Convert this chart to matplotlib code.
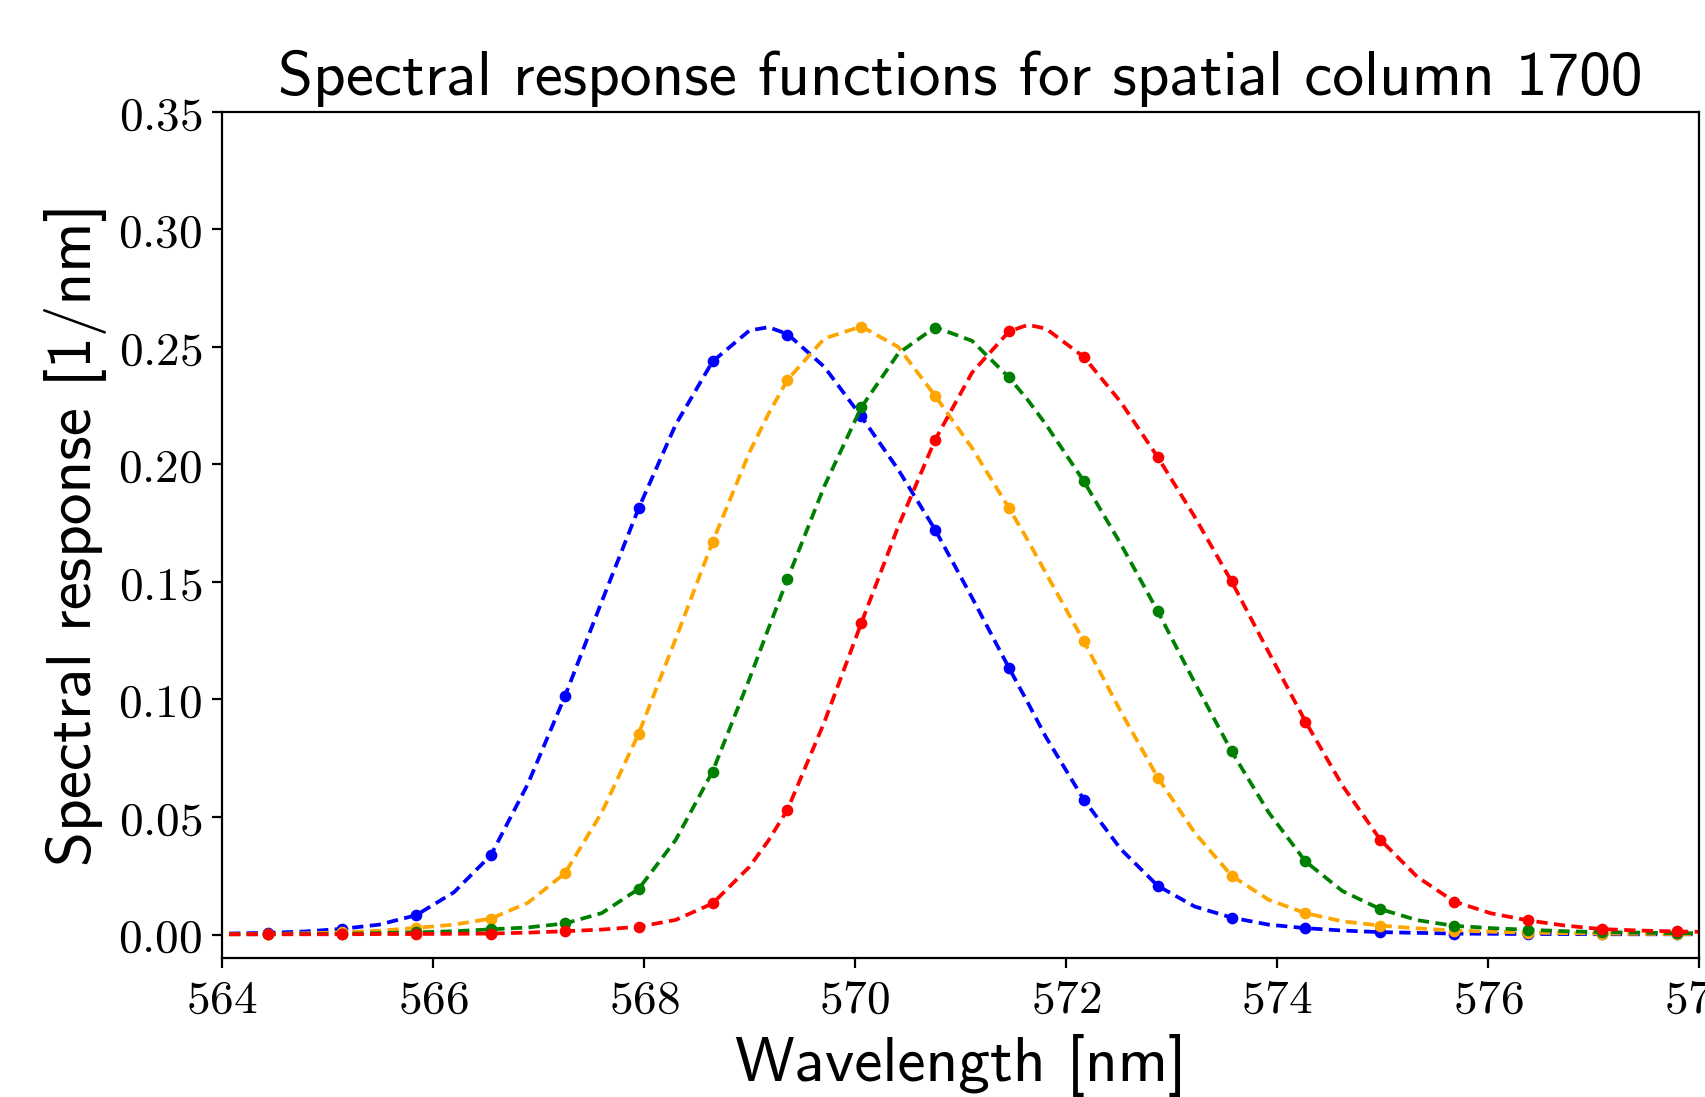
import matplotlib
matplotlib.use("Agg")
import matplotlib.pyplot as plt
from matplotlib.ticker import MultipleLocator, FormatStrFormatter

# sampled wavelengths (dots) shared by all four response functions
wl_samples = [564.44, 565.14, 565.84, 566.55, 567.25, 567.95, 568.65, 569.36, 570.06, 570.76,
              571.46, 572.17, 572.87, 573.57, 574.27, 574.98, 575.68, 576.38, 577.08, 577.79]

blue_pts = [0.0007, 0.0024, 0.0082, 0.0338, 0.1013, 0.1814, 0.2438, 0.2552, 0.2204, 0.1722,
            0.1134, 0.0573, 0.0207, 0.0072, 0.0027, 0.0010, 0.0004, 0.0002, 0.0001, 0.0001]
orange_pts = [0.0002, 0.0009, 0.0028, 0.0068, 0.0260, 0.0855, 0.1670, 0.2360, 0.2585, 0.2292,
              0.1814, 0.1247, 0.0668, 0.0250, 0.0091, 0.0038, 0.0017, 0.0008, 0.0004, 0.0002]
green_pts = [0.0001, 0.0003, 0.0009, 0.0022, 0.0047, 0.0194, 0.0693, 0.1512, 0.2243, 0.2580,
             0.2370, 0.1928, 0.1375, 0.0779, 0.0311, 0.0108, 0.0037, 0.0020, 0.0010, 0.0006]
red_pts = [0.0001, 0.0001, 0.0002, 0.0004, 0.0014, 0.0033, 0.0132, 0.0531, 0.1325, 0.2105,
           0.2566, 0.2457, 0.2031, 0.1502, 0.0906, 0.0403, 0.0140, 0.0060, 0.0023, 0.0013]

# dashed model curves on a finer wavelength grid
wl_model = [563.9, 564.44, 564.79, 565.14, 565.49, 565.84, 566.2, 566.55, 566.9, 567.25,
            567.6, 567.95, 568.3, 568.65, 569.0, 569.18, 569.36, 569.71, 570.06, 570.41, 570.76,
            571.11, 571.46, 571.64, 571.81, 572.17, 572.52, 572.87, 573.22, 573.57, 573.92, 574.27,
            574.62, 574.98, 575.33, 575.68, 576.03, 576.38, 576.73, 577.08, 577.43, 577.79, 578.1]

blue_model = [0.0003, 0.0007, 0.0013, 0.0024, 0.0042, 0.0082, 0.0180, 0.0338, 0.0641, 0.1013,
              0.1417, 0.1814, 0.2169, 0.2438, 0.2570, 0.2584, 0.2555, 0.2415, 0.2204, 0.1978, 0.1722,
              0.1433, 0.1134, 0.0985, 0.0840, 0.0573, 0.0363, 0.0207, 0.0119, 0.0072, 0.0042, 0.0027,
              0.0017, 0.0010, 0.0007, 0.0004, 0.0003, 0.0002, 0.0002, 0.0001, 0.0001, 0.0001, 0.0001]
orange_model = [0.0001, 0.0002, 0.0005, 0.0009, 0.0016, 0.0028, 0.0042, 0.0068, 0.0135, 0.0260,
                0.0519, 0.0855, 0.1257, 0.1670, 0.2052, 0.2215, 0.2360, 0.2536, 0.2587, 0.2500, 0.2292,
                0.2070, 0.1814, 0.1676, 0.1537, 0.1247, 0.0948, 0.0668, 0.0433, 0.0250, 0.0148, 0.0091,
                0.0056, 0.0038, 0.0026, 0.0017, 0.0012, 0.0008, 0.0006, 0.0004, 0.0003, 0.0002, 0.0002]
green_model = [0.0001, 0.0001, 0.0002, 0.0003, 0.0006, 0.0009, 0.0014, 0.0022, 0.0030, 0.0047,
               0.0091, 0.0194, 0.0402, 0.0693, 0.1088, 0.1302, 0.1512, 0.1908, 0.2243, 0.2472, 0.2584,
               0.2526, 0.2370, 0.2273, 0.2170, 0.1928, 0.1661, 0.1375, 0.1072, 0.0779, 0.0520, 0.0311,
               0.0185, 0.0108, 0.0061, 0.0037, 0.0027, 0.0020, 0.0014, 0.0010, 0.0008, 0.0006, 0.0005]
red_model = [0.0001, 0.0001, 0.0001, 0.0001, 0.0002, 0.0002, 0.0003, 0.0004, 0.0008, 0.0014,
             0.0021, 0.0033, 0.0062, 0.0132, 0.0288, 0.0400, 0.0531, 0.0904, 0.1325, 0.1736, 0.2105,
             0.2391, 0.2566, 0.2594, 0.2578, 0.2457, 0.2265, 0.2031, 0.1777, 0.1502, 0.1202, 0.0906,
             0.0634, 0.0403, 0.0245, 0.0140, 0.0090, 0.0060, 0.0038, 0.0023, 0.0017, 0.0013, 0.0011]

colors = ["blue", "orange", "green", "red"]
points = [blue_pts, orange_pts, green_pts, red_pts]
models = [blue_model, orange_model, green_model, red_model]

plt.rcParams["mathtext.fontset"] = "cm"
sans_font = "cmss10"  # computer modern sans, ships with matplotlib

fig = plt.figure(figsize=(8.53, 5.485), dpi=200)
ax = fig.add_axes([0.1301, 0.1267, 0.8658, 0.7713])

for c, pts, model in zip(colors, points, models):
    ax.plot(wl_model, model, linestyle=(0, (3.0, 1.7)), color=c, lw=1.35)
    ax.plot(wl_samples, pts, "o", color=c, ms=3.2)

ax.set_xlim(564, 578)
ax.set_ylim(-0.01, 0.35)
ax.xaxis.set_major_locator(MultipleLocator(2))
ax.yaxis.set_major_locator(MultipleLocator(0.05))
ax.xaxis.set_major_formatter(FormatStrFormatter(r"$%d$"))
ax.yaxis.set_major_formatter(FormatStrFormatter(r"$%.2f$"))
ax.tick_params(labelsize=17)

ax.set_title("Spectral response functions for spatial column 1700", fontsize=22.8,
             fontname=sans_font)
ax.set_xlabel("Wavelength [nm]", fontsize=22.8, fontname=sans_font)
ax.set_ylabel("Spectral response [1/nm]", fontsize=22.8, fontname=sans_font)

fig.savefig("out.png", dpi=200)
